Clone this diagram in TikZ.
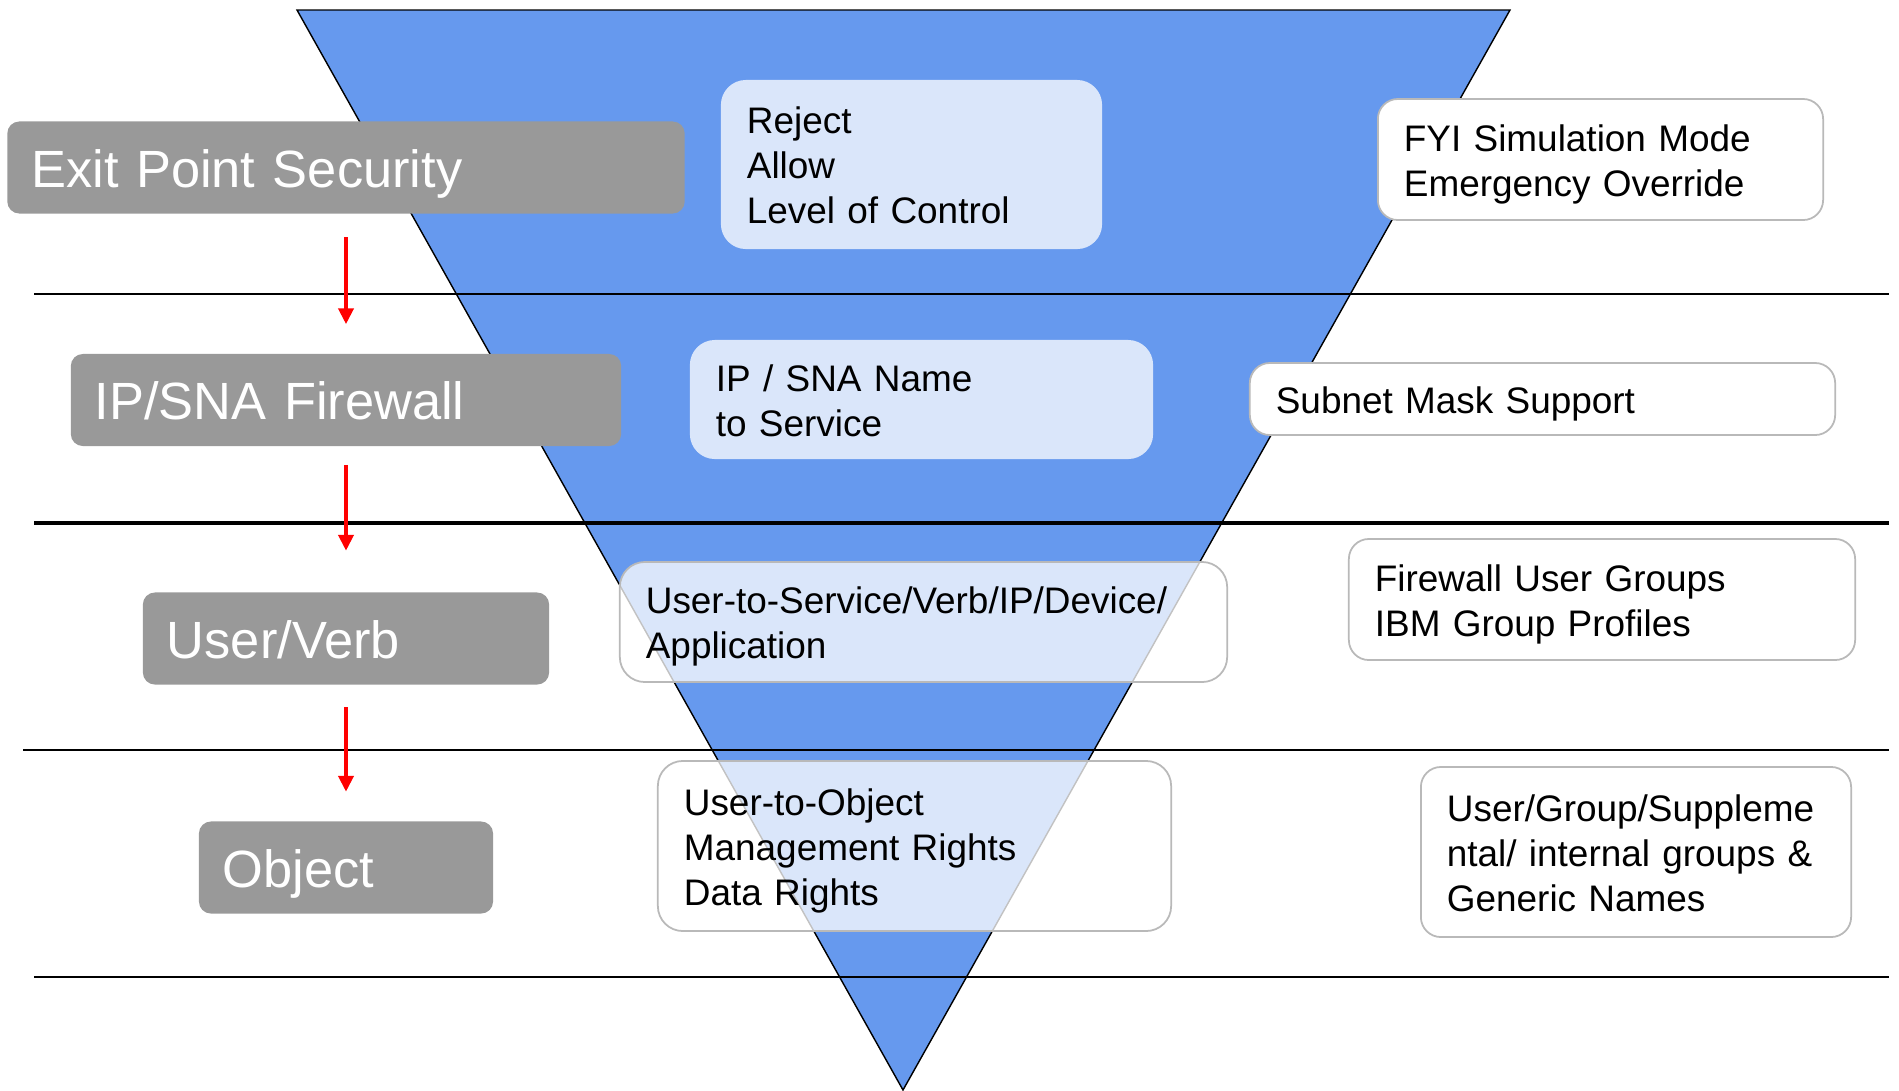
\documentclass[tikz,border=0pt]{standalone}
\usepackage{fontspec}
\setmainfont{Liberation Sans}
\usetikzlibrary{arrows.meta}
\definecolor{funnelblue}{RGB}{102,153,238}
\definecolor{labelgrey}{RGB}{153,153,153}
\definecolor{boxedge}{RGB}{185,185,185}
\tikzset{
  bandlabel/.style={rounded corners=0.12cm, fill=labelgrey, text=white,
    font=\fontsize{14.9}{18}\selectfont, align=left, inner xsep=0.24cm,
    minimum height=0.92cm,
    execute at begin node={\rule{0pt}{14.8pt}},
    execute at end node={\rule[-3.5pt]{0pt}{0pt}}},
  smalltext/.style={font=\fontsize{10.5}{12.8}\selectfont, align=left,
    inner xsep=0.26cm,
    execute at begin node={\rule{0pt}{10.7pt}},
    execute at end node={\rule[-2.5pt]{0pt}{0pt}}},
  midbox/.style={smalltext, rounded corners=0.25cm, fill=white,
    fill opacity=0.76, text opacity=1},
  sidebox/.style={smalltext, rounded corners=0.2cm, fill=white, draw=boxedge,
    line width=0.5pt},
  rule/.style={black, line width=0.6pt},
  flow/.style={red, line width=1.2pt, -{Triangle[length=0.16cm,width=0.15cm]}}
}
\begin{document}
\begin{tikzpicture}[x=0.01cm, y=-0.01cm]
\useasboundingbox (0,0) rectangle (1899,1090);

% funnel
\draw[fill=funnelblue, line width=0.4pt] (297,10) -- (1510,10) -- (903,1090) -- cycle;

% band separators
\draw[rule] (34,294) -- (1889,294);
\draw[rule, line width=1.0pt] (34,523) -- (1889,523);
\draw[rule] (23,750) -- (1889,750);
\draw[rule] (34,977) -- (1889,977);

% left band labels
\node[bandlabel, text width=6.29cm, minimum width=6.77cm] (exitpt) at (346,167.5) {Exit Point Security};
\node[bandlabel, text width=5.02cm, minimum width=5.50cm] (ipsna) at (346,400) {IP/SNA Firewall};
\node[bandlabel, text width=3.58cm, minimum width=4.06cm] (userverb) at (346,638.5) {User/Verb};
\node[bandlabel, text width=2.46cm, minimum width=2.94cm] (object) at (346,867.5) {Object};

% flow between the layers
\draw[flow, shorten <=0.23cm, shorten >=0.29cm] (exitpt.south) -- (ipsna.north);
\draw[flow, shorten <=0.18cm, shorten >=0.41cm] (ipsna.south) -- (userverb.north);
\draw[flow, shorten <=0.22cm, shorten >=0.29cm] (userverb.south) -- (object.north);

% controls inside the funnel
\node[midbox, text width=3.29cm, minimum width=3.81cm, minimum height=1.69cm] (ctrl) at (911.5,164.5)
  {Reject\\Allow\\Level of Control};
\node[midbox, text width=4.11cm, minimum width=4.63cm, minimum height=1.19cm] (names) at (921.5,399.5)
  {IP / SNA Name\\to Service};
\node[midbox, draw=boxedge, draw opacity=1, line width=0.5pt, text width=5.55cm, minimum width=6.07cm, minimum height=1.20cm] (usersvc) at (923.5,622)
  {User-to-Service/Verb/IP/Device/\\Application};
\node[midbox, draw=boxedge, draw opacity=1, line width=0.5pt, text width=4.61cm, minimum width=5.13cm, minimum height=1.70cm] (userobj) at (914.5,846)
  {User-to-Object\\Management Rights\\Data Rights};

% features on the right
\node[sidebox, text width=3.93cm, minimum width=4.45cm, minimum height=1.21cm] (fyi) at (1600.5,159.5)
  {FYI Simulation Mode\\Emergency Override};
\node[sidebox, text width=5.33cm, minimum width=5.85cm, minimum height=0.72cm] (subnet) at (1542.5,399)
  {Subnet Mask Support};
\node[sidebox, text width=4.54cm, minimum width=5.06cm, minimum height=1.21cm] (groups) at (1602,599.5)
  {Firewall User Groups\\IBM Group Profiles};
\node[sidebox, text width=3.78cm, minimum width=4.30cm, minimum height=1.70cm] (generic) at (1636,852)
  {User/Group/Suppleme\\ntal/ internal groups \&\\Generic Names};
\end{tikzpicture}
\end{document}
